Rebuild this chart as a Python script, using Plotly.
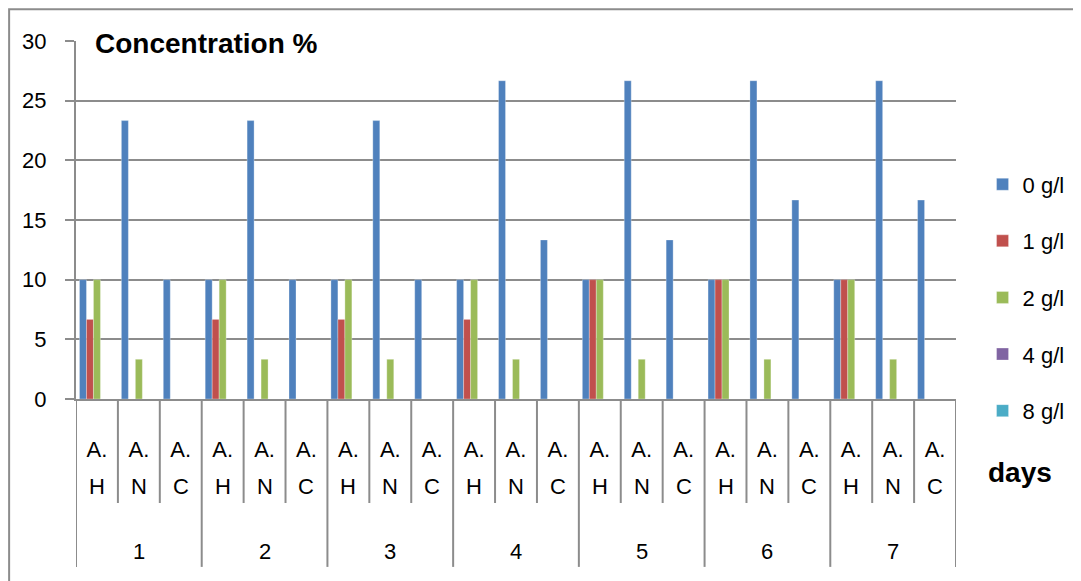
import plotly.graph_objects as go

days = ["1", "2", "3", "4", "5", "6", "7"]
sample_top = ["A.", "A.", "A."]
sample_bottom = ["H", "N", "C"]
series_names = ["0 g/l", "1 g/l", "2 g/l", "4 g/l", "8 g/l"]
colors = ["#4F81BD", "#C0504D", "#9BBB59", "#8064A2", "#4BACC6"]

# values ordered day by day: A.H, A.N, A.C
v0 = [10, 23.33, 10, 10, 23.33, 10, 10, 23.33, 10, 10, 26.67, 13.33, 10, 26.67, 13.33, 10, 26.67, 16.67, 10, 26.67, 16.67]
v1 = [6.67, 0, 0, 6.67, 0, 0, 6.67, 0, 0, 6.67, 0, 0, 10, 0, 0, 10, 0, 0, 10, 0, 0]
v2 = [10, 3.33, 0, 10, 3.33, 0, 10, 3.33, 0, 10, 3.33, 0, 10, 3.33, 0, 10, 3.33, 0, 10, 3.33, 0]
v4 = [0, 0, 0, 0, 0, 0, 0, 0, 0, 0, 0, 0, 0, 0, 0, 0, 0, 0, 0, 0, 0]
v8 = [0, 0, 0, 0, 0, 0, 0, 0, 0, 0, 0, 0, 0, 0, 0, 0, 0, 0, 0, 0, 0]
values = [v0, v1, v2, v4, v8]

n_s = len(sample_top)
idx = list(range(len(days) * n_s))
top_text = [t for _ in days for t in sample_top]
bot_text = [b for _ in days for b in sample_bottom]

FONT = "Liberation Sans, Arial, sans-serif"
GRID = "#8C8C8C"

fig = go.Figure()
for name, col, vals in zip(series_names, colors, values):
    fig.add_trace(go.Bar(
        x=idx, y=vals, name=name, legendgroup=name,
        marker=dict(color=col, line=dict(color="rgba(255,255,255,0.5)", width=0.6)),
    ))

fig.update_layout(
    width=1073, height=573,
    margin=dict(l=68, r=124, t=33, b=182),
    paper_bgcolor="white", plot_bgcolor="white",
    barmode="group", bargap=0.166, bargroupgap=0,
    font=dict(family=FONT, size=22, color="black"),
    legend=dict(x=1.029, y=0.658, xanchor="left", yanchor="top",
                font=dict(family=FONT, size=22), tracegroupgap=25,
                itemwidth=30, bgcolor="rgba(0,0,0,0)"),
    showlegend=True,
)
fig.update_yaxes(range=[0, 30], dtick=5, showgrid=True, gridcolor=GRID, gridwidth=2,
                 showline=True, linecolor=GRID, linewidth=2,
                 ticks="outside", ticklen=9, tickcolor=GRID, tickwidth=2,
                 ticklabelstandoff=14,
                 tickfont=dict(family=FONT, size=22), zeroline=False)
fig.update_xaxes(range=[-0.5, len(idx) - 0.5], tickmode="array", tickvals=idx, ticktext=top_text,
                 showline=True, linecolor=GRID, linewidth=2, ticks="", showgrid=False,
                 zeroline=False, ticklabelstandoff=30, tickangle=0,
                 tickfont=dict(family=FONT, size=22))

# second line of the sample labels
for i, b in zip(idx, bot_text):
    fig.add_annotation(text=b, xref="x", yref="paper", x=i, y=-0.2458,
                       yanchor="middle", showarrow=False,
                       font=dict(family=FONT, size=22, color="black"))

# separators: inner columns and day groups
for i in range(len(idx) + 1):
    is_day = (i % n_s == 0)
    fig.add_shape(type="line", xref="x", yref="paper", x0=i - 0.5, x1=i - 0.5,
                  y0=0, y1=-0.469 if is_day else -0.2905,
                  line=dict(color=GRID, width=2))

# day labels
for d, day in enumerate(days):
    fig.add_annotation(text=day, xref="x", yref="paper", x=d * n_s + (n_s - 1) / 2,
                       y=-0.427, yanchor="middle", showarrow=False,
                       font=dict(family=FONT, size=22, color="black"))

fig.add_annotation(text="<b>Concentration %</b>", xref="paper", yref="paper",
                   x=0.0193, y=0.994, xanchor="left", yanchor="middle", showarrow=False,
                   font=dict(family=FONT, size=28, color="black"))
fig.add_annotation(text="<b>days</b>", xref="paper", yref="paper",
                   x=1.0726, y=-0.204, xanchor="center", yanchor="middle", showarrow=False,
                   font=dict(family=FONT, size=28, color="black"))
fig.add_shape(type="rect", xref="paper", yref="paper", x0=-0.076, x1=1.3, y0=-0.7, y1=1.089,
              line=dict(color=GRID, width=2))

fig.write_html("out.html")
